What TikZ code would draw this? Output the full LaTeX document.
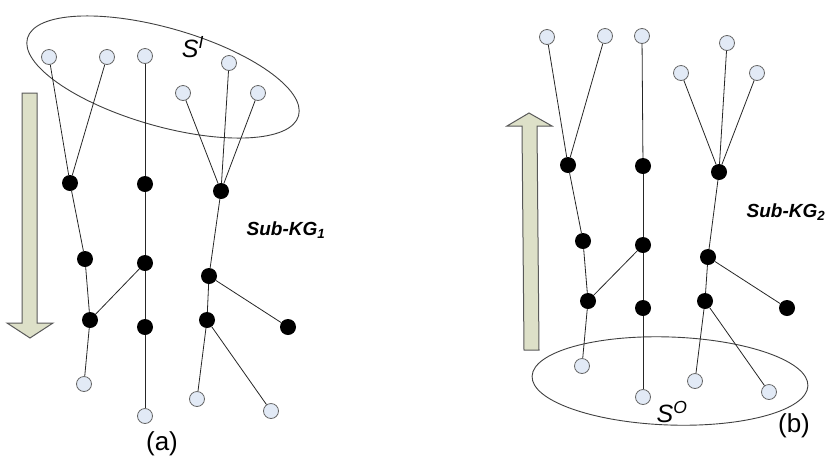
\documentclass[tikz,border=0pt]{standalone}
\usepackage{fontspec}
\setmainfont{Liberation Sans}
\setsansfont{Liberation Sans}
\usepackage{tikz}
\tikzstyle{pixelGrid} = [x = 1pt, y = -1pt]
\definecolor{leafColor}{RGB}{226,234,246}
\definecolor{arrowColor}{RGB}{221,224,200}
\tikzstyle{leafStyle} = [circle, draw=black!60, fill=leafColor, inner sep=0pt, minimum size=15pt, line width=0.8pt]
\tikzstyle{entityStyle} = [circle, fill=black, inner sep=0pt, minimum size=16pt]
\tikzstyle{edgeLine} = [color=black!85, line width=0.8pt]
\tikzstyle{setEllipse} = [color=black!75, line width=0.9pt]
\tikzstyle{flowArrow} = [draw=black!65, fill=arrowColor, line width=1pt, line join=miter]
\tikzstyle{graphName} = [font=\fontsize{19}{22}\selectfont\bfseries\itshape]
\tikzstyle{panelName} = [font=\fontsize{26}{30}\selectfont]
\tikzstyle{setName} = [font=\fontsize{25}{28}\selectfont\itshape]
\newcommand{\leafNode}[3]{\node [leafStyle] (#1) at (#2,#3) {};}
\newcommand{\entityNode}[3]{\node [entityStyle] (#1) at (#2,#3) {};}

\begin{document}
\begin{tikzpicture}[pixelGrid]
        \useasboundingbox (0,0) rectangle (828,459);

        % (a) input set on top, walking downwards
        \draw [setEllipse] (163,77) ellipse [x radius=141pt, y radius=49pt, rotate=-16];
        \draw [flowArrow] (22,93) -- (37,93) -- (37,323) -- (53,323) -- (30,338) -- (7,323) -- (22,323) -- cycle;

        \leafNode{aL1}{49}{57}
        \leafNode{aL2}{107}{57}
        \leafNode{aL3}{145}{56}
        \leafNode{aL4}{229}{63}
        \leafNode{aL5}{183}{93}
        \leafNode{aL6}{258}{93}
        \leafNode{aL7}{84}{384}
        \leafNode{aL8}{145}{416}
        \leafNode{aL9}{197}{399}
        \leafNode{aL10}{271}{411}
        \entityNode{aN1}{70}{183}
        \entityNode{aN2}{145}{184}
        \entityNode{aN3}{221}{191}
        \entityNode{aN4}{85}{259}
        \entityNode{aN5}{145}{263}
        \entityNode{aN6}{209}{276}
        \entityNode{aN7}{90}{320}
        \entityNode{aN8}{145}{327}
        \entityNode{aN9}{207}{320}
        \entityNode{aN10}{288}{327}

        \foreach \from/\to in {aL1/aN1, aL2/aN1, aN1/aN4, aN4/aN7, aN7/aN5, aN7/aL7,
                               aL3/aN2, aN2/aN5, aN5/aN8, aN8/aL8,
                               aL4/aN3, aL5/aN3, aL6/aN3, aN3/aN6, aN6/aN10, aN6/aN9, aN9/aL9, aN9/aL10}
          \draw [edgeLine] (\from) -- (\to);

        \node [setName] (aSet) at (193,47) {S\textsuperscript{I}};
        \node [graphName] (aName) at (286,230) {Sub-KG\textsubscript{1}};
        \node [panelName] (aPanel) at (162,444) {(a)};

        % (b) output set at the bottom, walking upwards
        \draw [setEllipse] (670,381) ellipse [x radius=138pt, y radius=44pt, rotate=-2];
        \draw [flowArrow] (524,350) -- (539,350) -- (537,126) -- (552,126) -- (529,113) -- (507,126) -- (522,126) -- cycle;

        \leafNode{bL1}{547}{37}
        \leafNode{bL2}{605}{36}
        \leafNode{bL3}{642}{36}
        \leafNode{bL4}{727}{43}
        \leafNode{bL5}{681}{73}
        \leafNode{bL6}{757}{73}
        \leafNode{bL7}{582}{366}
        \leafNode{bL8}{643}{397}
        \leafNode{bL9}{695}{381}
        \leafNode{bL10}{769}{392}
        \entityNode{bN1}{568}{165}
        \entityNode{bN2}{643}{166}
        \entityNode{bN3}{719}{172}
        \entityNode{bN4}{583}{241}
        \entityNode{bN5}{643}{245}
        \entityNode{bN6}{708}{257}
        \entityNode{bN7}{588}{301}
        \entityNode{bN8}{643}{308}
        \entityNode{bN9}{705}{301}
        \entityNode{bN10}{787}{308}

        \foreach \from/\to in {bL1/bN1, bL2/bN1, bN1/bN4, bN4/bN7, bN7/bN5, bN7/bL7,
                               bL3/bN2, bN2/bN5, bN5/bN8, bN8/bL8,
                               bL4/bN3, bL5/bN3, bL6/bN3, bN3/bN6, bN6/bN10, bN6/bN9, bN9/bL9, bN9/bL10}
          \draw [edgeLine] (\from) -- (\to);

        \node [setName] (bSet) at (672,412) {S\textsuperscript{O}};
        \node [graphName] (bName) at (786,212) {Sub-KG\textsubscript{2}};
        \node [panelName] (bPanel) at (794,426) {(b)};
      \end{tikzpicture}
\end{document}
